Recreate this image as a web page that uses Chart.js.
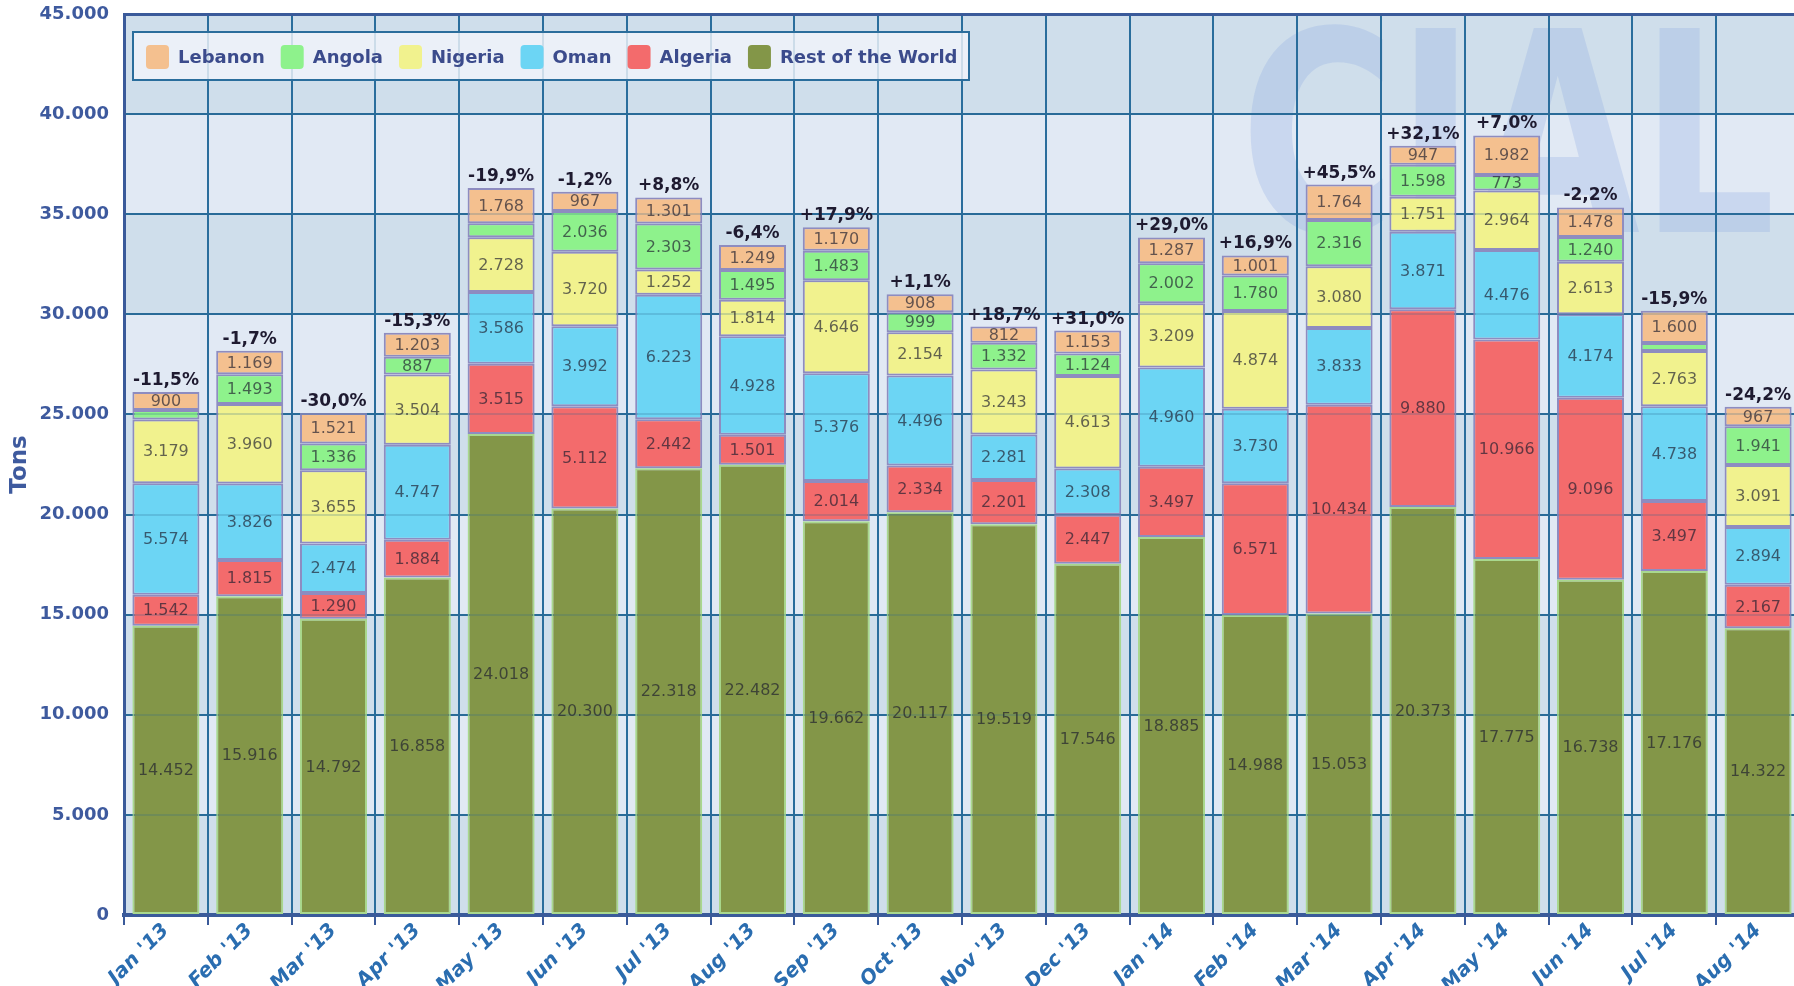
<!DOCTYPE html>
<html>
<head>
<meta charset="utf-8">
<script src="https://cdn.jsdelivr.net/npm/chart.js@4"></script>
<style>
html,body{margin:0;padding:0;overflow:hidden;background:#ffffff;}
#wrap{width:1800px;height:986px;position:relative;}
</style>
</head>
<body>
<div id="wrap"><canvas id="c"></canvas></div>
<script>
// ---- data ----
const categories = ["Jan '13","Feb '13","Mar '13","Apr '13","May '13","Jun '13","Jul '13","Aug '13","Sep '13","Oct '13","Nov '13","Dec '13","Jan '14","Feb '14","Mar '14","Apr '14","May '14","Jun '14","Jul '14","Aug '14"];
const restOfWorld = [14452,15916,14792,16858,24018,20300,22318,22482,19662,20117,19519,17546,18885,14988,15053,20373,17775,16738,17176,14322];
const algeria     = [1542,1815,1290,1884,3515,5112,2442,1501,2014,2334,2201,2447,3497,6571,10434,9880,10966,9096,3497,2167];
const oman        = [5574,3826,2474,4747,3586,3992,6223,4928,5376,4496,2281,2308,4960,3730,3833,3871,4476,4174,4738,2894];
const nigeria     = [3179,3960,3655,3504,2728,3720,1252,1814,4646,2154,3243,4613,3209,4874,3080,1751,2964,2613,2763,3091];
const angola      = [480,1493,1336,887,700,2036,2303,1495,1483,999,1332,1124,2002,1780,2316,1598,773,1240,400,1941];
const lebanon     = [900,1169,1521,1203,1768,967,1301,1249,1170,908,812,1153,1287,1001,1764,947,1982,1478,1600,967];
const changeLabels = ["-11,5%","-1,7%","-30,0%","-15,3%","-19,9%","-1,2%","+8,8%","-6,4%","+17,9%","+1,1%","+18,7%","+31,0%","+29,0%","+16,9%","+45,5%","+32,1%","+7,0%","-2,2%","-15,9%","-24,2%"];
const yAxisTitle = "Tons";
const watermarkText = "CIAL";

const FONT = "'DejaVu Sans', Verdana, sans-serif";
const fmt = n => String(n).replace(/\B(?=(\d{3})+(?!\d))/g, '.');

const seriesDefs = [
  {label:'Rest of the World', data:restOfWorld, bg:'#839648', border:'#a9d88e'},
  {label:'Algeria', data:algeria, bg:'#f36b6c', border:'#8e8cc0'},
  {label:'Oman', data:oman, bg:'#6cd5f4', border:'#8e8cc0'},
  {label:'Nigeria', data:nigeria, bg:'#f1f28e', border:'#8e8cc0'},
  {label:'Angola', data:angola, bg:'#8ef28c', border:'#8e8cc0'},
  {label:'Lebanon', data:lebanon, bg:'#f4c08f', border:'#8e8cc0'}
];

const bandsPlugin = {
  id:'bands',
  beforeDraw(chart){
    const {ctx, chartArea:a, scales:{y}} = chart;
    ctx.save();
    for (let v = 0; v < 45000; v += 5000) {
      const top = y.getPixelForValue(v + 5000), bot = y.getPixelForValue(v);
      ctx.fillStyle = ((v / 5000) % 2 === 0) ? '#cfdeeb' : '#e1e9f4';
      ctx.fillRect(a.left, top, a.width, bot - top);
    }
    // watermark
    ctx.beginPath();
    ctx.rect(a.left, a.top, a.width, a.height);
    ctx.clip();
    ctx.translate(1240, 232);
    ctx.scale(0.76, 1);
    ctx.font = "bold 280px " + FONT;
    ctx.textBaseline = 'alphabetic';
    ctx.textAlign = 'left';
    ctx.fillStyle = 'rgba(140,170,225,0.28)';
    ctx.fillText(watermarkText, 0, 0);
    ctx.restore();
  }
};

const overlayPlugin = {
  id:'overlay',
  afterDatasetsDraw(chart){
    const {ctx, chartArea:a, scales:{y}} = chart;
    ctx.save();
    // faint horizontal gridlines over bars
    ctx.strokeStyle = 'rgba(42,100,140,0.22)';
    ctx.lineWidth = 2;
    for (let v = 5000; v < 45000; v += 5000) {
      const p = Math.round(y.getPixelForValue(v));
      ctx.beginPath(); ctx.moveTo(a.left, p); ctx.lineTo(a.right, p); ctx.stroke();
    }
    // value labels
    ctx.font = "16px " + FONT;
    ctx.textAlign = 'center';
    ctx.textBaseline = 'middle';
    ctx.fillStyle = 'rgba(30,30,45,0.68)';
    chart.data.datasets.forEach((ds, di) => {
      const meta = chart.getDatasetMeta(di);
      meta.data.forEach((el, i) => {
        const h = Math.abs(el.base - el.y);
        if (h >= 15) ctx.fillText(fmt(ds.data[i]), el.x, (el.y + el.base) / 2 + 1);
      });
    });
    // change labels above stacks
    const topMeta = chart.getDatasetMeta(chart.data.datasets.length - 1);
    ctx.font = "bold 17px " + FONT;
    ctx.textBaseline = 'alphabetic';
    ctx.fillStyle = '#1e1a30';
    topMeta.data.forEach((el, i) => {
      ctx.fillText(changeLabels[i], el.x, el.y - 7);
    });
    ctx.restore();
  },
  afterDraw(chart){
    const {ctx} = chart;
    ctx.save();
    // legend box
    const bx = 133, by = 32, bw = 836, bh = 48;
    ctx.fillStyle = 'rgba(240,244,250,0.82)';
    ctx.fillRect(bx, by, bw, bh);
    ctx.strokeStyle = '#2a6d9c';
    ctx.lineWidth = 2;
    ctx.strokeRect(bx, by, bw, bh);
    ctx.font = "bold 18px " + FONT;
    ctx.textBaseline = 'middle';
    ctx.textAlign = 'left';
    let x = 146;
    const ds = chart.data.datasets.slice().reverse();
    ds.forEach(d => {
      ctx.fillStyle = d.backgroundColor;
      const r = 4, sw = 23, sh = 24, sy = 45;
      ctx.beginPath();
      ctx.moveTo(x + r, sy); ctx.lineTo(x + sw - r, sy); ctx.quadraticCurveTo(x + sw, sy, x + sw, sy + r);
      ctx.lineTo(x + sw, sy + sh - r); ctx.quadraticCurveTo(x + sw, sy + sh, x + sw - r, sy + sh);
      ctx.lineTo(x + r, sy + sh); ctx.quadraticCurveTo(x, sy + sh, x, sy + sh - r);
      ctx.lineTo(x, sy + r); ctx.quadraticCurveTo(x, sy, x + r, sy);
      ctx.fill();
      ctx.fillStyle = '#3b4b8c';
      ctx.fillText(d.label, x + sw + 9, 58);
      x += sw + 9 + ctx.measureText(d.label).width + 16;
    });
    ctx.restore();
  }
};

new Chart(document.getElementById('c'), {
  type:'bar',
  data:{
    labels: categories,
    datasets: seriesDefs.map(s => ({
      label:s.label, data:s.data, backgroundColor:s.bg, borderColor:s.border,
      borderWidth:2, borderSkipped:false,
      categoryPercentage:0.8, barPercentage:1.0
    }))
  },
  options:{
    responsive:true, maintainAspectRatio:false, animation:false,
    layout:{padding:{top:14, left:0, right:0, bottom:0}},
    plugins:{legend:{display:false}, tooltip:{enabled:false}},
    scales:{
      x:{
        stacked:true,
        afterFit(s){ s.height = 71; },
        grid:{offset:true, color:'#2a6d9c', lineWidth:2, tickLength:10, tickColor:'#3a5a9a', tickWidth:2},
        border:{display:true, color:'#3a5a9a', width:4},
        ticks:{autoSkip:false, minRotation:45, maxRotation:45, padding:-6, color:'#2a6db0',
               font:{family:FONT, size:20, weight:'bold', style:'italic'}}
      },
      y:{
        stacked:true, min:0, max:45000,
        afterFit(s){ s.width = 124; s.paddingTop = 0; s.paddingBottom = 0; },
        grid:{drawTicks:false,
              color:c => (c.tick && c.tick.value === 45000) ? '#3a5a9a' : '#2a6d9c',
              lineWidth:c => (c.tick && c.tick.value === 45000) ? 3 : 2},
        border:{display:true, color:'#3a5a9a', width:3},
        ticks:{stepSize:5000, padding:15, color:'#3e5a9e',
               font:{family:FONT, size:18, weight:'bold'},
               callback:v => fmt(v)},
        title:{display:true, text:yAxisTitle, color:'#3e5a9e',
               font:{family:FONT, size:23, weight:'bold'}, padding:{top:6, bottom:0}}
      }
    }
  },
  plugins:[bandsPlugin, overlayPlugin]
});
</script>
</body>
</html>
